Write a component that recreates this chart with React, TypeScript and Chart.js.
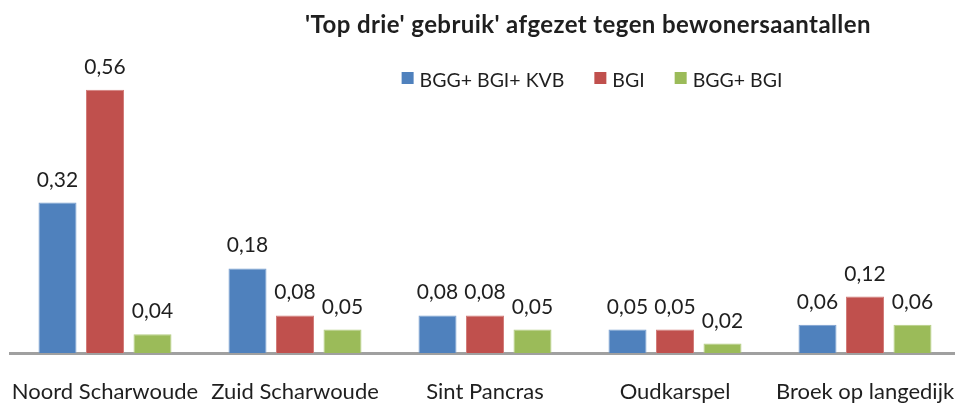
import { useEffect, useRef } from "react";
import { Chart, registerables } from "chart.js";

Chart.register(...registerables);

const categories = [
  "Noord Scharwoude",
  "Zuid Scharwoude",
  "Sint Pancras",
  "Oudkarspel",
  "Broek op langedijk",
];
const seriesNames = ["BGG+ BGI+ KVB", "BGI", "BGG+ BGI"];
const bggBgiKvb = [0.32, 0.18, 0.08, 0.05, 0.06];
const bgi = [0.56, 0.08, 0.08, 0.05, 0.12];
const bggBgi = [0.04, 0.05, 0.05, 0.02, 0.06];
const seriesColors = ["#4F81BD", "#C0504D", "#9BBB59"];
const seriesEdges = ["#7A9FD0", "#D27C79", "#B5CE84"];
const chartTitle = "'Top drie' gebruik' afgezet tegen bewonersaantallen";

const TEXT = "#1f1f1f";
const FONT = "Lato, 'Open Sans', sans-serif";

const fmt = (v: number) => v.toFixed(2).replace(".", ",");

// Value labels above each bar, Dutch decimal comma
const valueLabels = {
  id: "valueLabels",
  afterDatasetsDraw(chart: any) {
    const ctx = chart.ctx as CanvasRenderingContext2D;
    ctx.save();
    ctx.font = `21px ${FONT}`;
    ctx.fillStyle = TEXT;
    ctx.textAlign = "center";
    ctx.textBaseline = "alphabetic";
    chart.data.datasets.forEach((ds: any, i: number) => {
      const meta = chart.getDatasetMeta(i);
      meta.data.forEach((bar: any, j: number) => {
        ctx.fillText(fmt(ds.data[j] as number), bar.x, bar.y - 16);
      });
    });
    ctx.restore();
  },
};

// Title and a single-row legend, centred over the right part of the plot
const header = {
  id: "header",
  afterDraw(chart: any) {
    const ctx = chart.ctx as CanvasRenderingContext2D;
    ctx.save();
    ctx.fillStyle = TEXT;
    ctx.textBaseline = "alphabetic";
    ctx.textAlign = "center";
    ctx.font = `bold 24px ${FONT}`;
    (ctx as any).letterSpacing = "0.4px";
    ctx.fillText(chartTitle, 588, 33);
    (ctx as any).letterSpacing = "0px";

    ctx.font = `19.5px ${FONT}`;
    ctx.textAlign = "left";
    const box = 12;
    const boxGap = 6;
    const itemGap = 30;
    const items = chart.data.datasets.map((ds: any) => ({
      label: ds.label as string,
      color: ds.backgroundColor as string,
      w: box + boxGap + ctx.measureText(ds.label).width,
    }));
    const total =
      items.reduce((s: number, it: any) => s + it.w, 0) +
      itemGap * (items.length - 1);
    let x = 592 - total / 2;
    items.forEach((it: any) => {
      ctx.fillStyle = it.color;
      ctx.fillRect(x, 72, box, box);
      ctx.fillStyle = TEXT;
      ctx.fillText(it.label, x + box + boxGap, 86.5);
      x += it.w + itemGap;
    });
    ctx.restore();
  },
};

export default function App() {
  const ref = useRef<HTMLCanvasElement>(null);

  useEffect(() => {
    if (!ref.current) return;
    const series = [bggBgiKvb, bgi, bggBgi];
    const chart = new Chart(ref.current, {
      type: "bar",
      data: {
        labels: categories,
        datasets: series.map((data, i) => ({
          label: seriesNames[i],
          data,
          backgroundColor: seriesColors[i],
          borderColor: seriesEdges[i],
          borderWidth: 1,
          borderSkipped: "start",
          categoryPercentage: 0.75,
          barPercentage: 0.8,
        })),
      },
      options: {
        responsive: false,
        animation: false,
        layout: { padding: { left: 10, right: 5, top: 71, bottom: 14 } },
        plugins: {
          legend: { display: false },
          title: { display: false },
          tooltip: { enabled: false },
        },
        scales: {
          x: {
            grid: { display: false, drawTicks: false },
            border: { display: true, color: "#A0A0A0", width: 3 },
            ticks: {
              color: TEXT,
              font: { family: FONT, size: 22 },
              padding: 26,
              maxRotation: 0,
              autoSkip: false,
            },
            // keep the plot full width; the outer labels may overhang
            afterFit(scale: any) {
              scale.paddingLeft = 0;
              scale.paddingRight = 0;
              scale.height = 53;
            },
          },
          y: {
            display: false,
            min: 0,
            max: 0.6,
          },
        },
      },
      plugins: [valueLabels, header],
    });
    return () => chart.destroy();
  }, []);

  return (
    <div
      style={{
        position: "fixed",
        left: 0,
        top: 0,
        width: 965,
        height: 420,
        background: "#fff",
      }}
    >
      <canvas ref={ref} width={965} height={420} style={{ width: 965, height: 420 }} />
    </div>
  );
}
